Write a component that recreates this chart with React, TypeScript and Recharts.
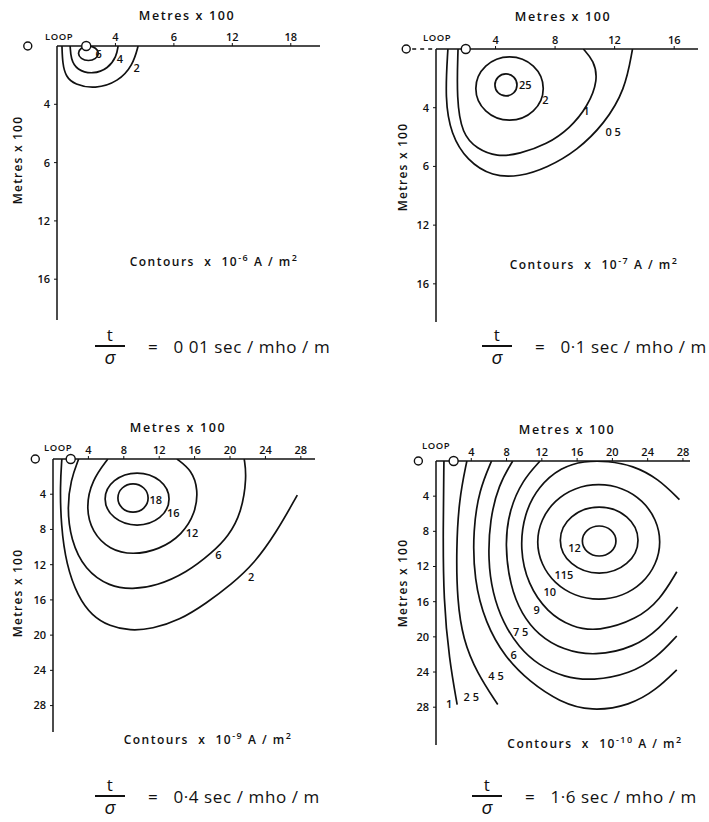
import React from "react";
import {
  ComposedChart,
  Line,
  Scatter,
  XAxis,
  YAxis,
  ReferenceDot,
  ReferenceLine,
} from "recharts";

const FONT = "'Open Sans', 'DejaVu Sans', sans-serif";
const INK = "#111111";

// tick positions (metres x 100) and the labels as printed
const ticks16 = [4, 8, 12, 16];
const ticks28 = [4, 8, 12, 16, 20, 24, 28];
const p1XLabels = ["4", "6", "12", "18"];
const p1YLabels = ["4", "6", "12", "16"];
const p2XLabels = ["4", "8", "12", "16"];
const p2YLabels = ["4", "6", "12", "16"];
const p34Labels = ["4", "8", "12", "16", "20", "24", "28"];

// t/sigma = 0.01
const p1Contour2 = [
  { x: 0.34, y: 0 }, { x: 0.38, y: 1.2 }, { x: 0.6, y: 2.1 }, { x: 1.2, y: 2.65 },
  { x: 2.6, y: 2.95 }, { x: 4.2, y: 2.45 }, { x: 5.2, y: 1.3 }, { x: 5.55, y: 0 },
];
const p1Contour4 = [
  { x: 0.9, y: 0 }, { x: 0.95, y: 0.9 }, { x: 1.35, y: 1.65 }, { x: 2.47, y: 1.95 },
  { x: 3.5, y: 1.55 }, { x: 4.08, y: 0.7 }, { x: 4.18, y: 0 },
];
const p1Contour6 = [
  { x: 2.9, y: 0.5 }, { x: 2.68, y: 0.88 }, { x: 2.15, y: 1.05 }, { x: 1.62, y: 0.88 },
  { x: 1.4, y: 0.5 }, { x: 1.62, y: 0.12 }, { x: 2.15, y: -0.05 }, { x: 2.68, y: 0.12 },
];
const p1Labels = [
  { x: 2.85, y: 0.5, t: "6" },
  { x: 4.3, y: 0.85, t: "4" },
  { x: 5.45, y: 1.45, t: "2" },
];

// t/sigma = 0.1
const p2Contour05 = [
  { x: 0.8, y: 0 }, { x: 0.6, y: 3.4 }, { x: 1.0, y: 5.8 }, { x: 2.08, y: 7.6 },
  { x: 3.8, y: 8.7 }, { x: 5.6, y: 8.7 }, { x: 7.45, y: 8.1 }, { x: 9.5, y: 6.9 },
  { x: 11.3, y: 5.1 }, { x: 12.7, y: 2.8 }, { x: 13.2, y: 0 },
];
const p2Contour1 = [
  { x: 1.48, y: 0 }, { x: 1.38, y: 3.4 }, { x: 1.75, y: 5.8 }, { x: 2.75, y: 6.8 },
  { x: 4.1, y: 7.35 }, { x: 5.6, y: 7.15 }, { x: 7.45, y: 6.5 }, { x: 9.0, y: 5.4 },
  { x: 10.2, y: 3.9 }, { x: 10.9, y: 2.1 }, { x: 10.6, y: 0.8 }, { x: 9.9, y: 0 },
];
const p2Contour2 = [
  { x: 7.45, y: 2.69 }, { x: 6.71, y: 4.38 }, { x: 4.94, y: 5.08 }, { x: 3.17, y: 4.38 },
  { x: 2.43, y: 2.69 }, { x: 3.17, y: 1.0 }, { x: 4.94, y: 0.3 }, { x: 6.71, y: 1.0 },
];
const p2Contour25 = [
  { x: 5.52, y: 2.45 }, { x: 5.28, y: 3.04 }, { x: 4.7, y: 3.28 }, { x: 4.12, y: 3.04 },
  { x: 3.88, y: 2.45 }, { x: 4.12, y: 1.86 }, { x: 4.7, y: 1.62 }, { x: 5.28, y: 1.86 },
];
const p2Labels = [
  { x: 6.0, y: 2.4, t: "25" },
  { x: 7.35, y: 3.45, t: "2" },
  { x: 10.1, y: 4.2, t: "1" },
  { x: 11.9, y: 5.6, t: "0 5" },
];

// t/sigma = 0.4
const p3Contour2 = [
  { x: 1.0, y: 0 }, { x: 0.8, y: 3.0 }, { x: 0.9, y: 7.5 }, { x: 1.5, y: 12.0 },
  { x: 2.8, y: 15.6 }, { x: 4.4, y: 17.8 }, { x: 6.4, y: 19.0 }, { x: 8.7, y: 19.5 },
  { x: 11.2, y: 19.3 }, { x: 14.3, y: 18.3 }, { x: 17.3, y: 16.4 }, { x: 20.2, y: 14.2 },
  { x: 22.7, y: 11.9 }, { x: 25.2, y: 8.4 }, { x: 27.6, y: 4.1 },
];
const p3Contour6 = [
  { x: 2.9, y: 0 }, { x: 2.0, y: 2.4 }, { x: 1.6, y: 5.45 }, { x: 2.0, y: 9.2 },
  { x: 3.6, y: 12.6 }, { x: 6.4, y: 14.5 }, { x: 9.0, y: 14.8 }, { x: 11.7, y: 14.4 },
  { x: 15.1, y: 12.9 }, { x: 18.0, y: 10.6 }, { x: 19.8, y: 8.8 }, { x: 21.3, y: 6.1 },
  { x: 21.9, y: 2.0 }, { x: 21.6, y: 0 },
];
const p3Contour12 = [
  { x: 6.2, y: 0 }, { x: 4.4, y: 2.4 }, { x: 3.7, y: 5.45 }, { x: 4.4, y: 8.3 },
  { x: 6.4, y: 10.3 }, { x: 9.0, y: 10.9 }, { x: 12.0, y: 10.3 }, { x: 14.6, y: 8.6 },
  { x: 16.1, y: 6.1 }, { x: 16.4, y: 3.5 }, { x: 15.7, y: 1.3 }, { x: 14.0, y: 0 },
];
const p3Contour16 = [
  { x: 13.5, y: 4.55 }, { x: 12.33, y: 6.86 }, { x: 9.5, y: 7.82 }, { x: 6.67, y: 6.86 },
  { x: 5.5, y: 4.55 }, { x: 6.67, y: 2.24 }, { x: 9.5, y: 1.28 }, { x: 12.33, y: 2.24 },
];
const p3Contour18 = [
  { x: 10.93, y: 4.43 }, { x: 10.38, y: 5.69 }, { x: 9.04, y: 6.21 }, { x: 7.7, y: 5.69 },
  { x: 7.15, y: 4.43 }, { x: 7.7, y: 3.17 }, { x: 9.04, y: 2.65 }, { x: 10.38, y: 3.17 },
];
const p3Labels = [
  { x: 11.6, y: 4.55, t: "18" },
  { x: 13.6, y: 6.1, t: "16" },
  { x: 15.7, y: 8.4, t: "12" },
  { x: 18.7, y: 10.9, t: "6" },
  { x: 22.4, y: 13.3, t: "2" },
];

// t/sigma = 1.6
const p4Contour1 = [
  { x: 0.9, y: 0 }, { x: 0.8, y: 7.8 }, { x: 0.85, y: 15.8 }, { x: 1.5, y: 22.6 }, { x: 2.4, y: 27.7 },
];
const p4Contour25 = [
  { x: 3.5, y: 0 }, { x: 2.6, y: 4.4 }, { x: 2.3, y: 10.1 }, { x: 2.4, y: 15.8 },
  { x: 3.06, y: 20.3 }, { x: 4.64, y: 24.1 }, { x: 7.0, y: 27.7 },
];
const p4Contour45 = [
  { x: 6.3, y: 0 }, { x: 4.9, y: 3.3 }, { x: 4.2, y: 7.8 }, { x: 4.3, y: 13.5 },
  { x: 5.6, y: 18.4 }, { x: 7.8, y: 22.3 }, { x: 10.6, y: 25.1 }, { x: 14.0, y: 27.4 },
  { x: 17.6, y: 28.5 }, { x: 22.0, y: 27.8 }, { x: 25.0, y: 26.0 }, { x: 27.3, y: 23.75 },
];
const p4Contour6 = [
  { x: 8.7, y: 0 }, { x: 7.1, y: 2.7 }, { x: 6.1, y: 6.7 }, { x: 5.9, y: 11.25 },
  { x: 6.4, y: 15.0 }, { x: 7.6, y: 18.4 }, { x: 9.4, y: 21.2 }, { x: 11.6, y: 23.2 },
  { x: 14.5, y: 24.6 }, { x: 17.8, y: 25.0 }, { x: 22.0, y: 24.2 }, { x: 25.0, y: 22.4 },
  { x: 27.3, y: 19.9 },
];
const p4Contour75 = [
  { x: 11.8, y: 0 }, { x: 9.8, y: 2.2 }, { x: 8.3, y: 5.6 }, { x: 7.8, y: 9.5 },
  { x: 8.4, y: 14.2 }, { x: 9.7, y: 17.4 }, { x: 11.6, y: 19.8 }, { x: 14.4, y: 21.5 },
  { x: 18.0, y: 22.2 }, { x: 22.5, y: 21.2 }, { x: 25.4, y: 19.0 }, { x: 27.4, y: 16.6 },
];
const p4Contour9 = [
  { x: 27.6, y: 4.4 }, { x: 25.2, y: 2.0 }, { x: 22.3, y: 0.5 }, { x: 19.5, y: 0 },
  { x: 16.8, y: 0 }, { x: 14.2, y: 0.7 }, { x: 11.6, y: 2.9 }, { x: 10.0, y: 6.0 },
  { x: 9.5, y: 10.0 }, { x: 10.4, y: 14.0 }, { x: 12.6, y: 17.2 }, { x: 15.4, y: 18.9 },
  { x: 18.4, y: 19.4 }, { x: 22.8, y: 18.0 }, { x: 25.4, y: 15.8 }, { x: 27.3, y: 12.6 },
];
const p4Contour10 = [
  { x: 26.11, y: 9.2 }, { x: 23.87, y: 14.3 }, { x: 18.45, y: 16.42 }, { x: 13.03, y: 14.3 },
  { x: 10.79, y: 9.2 }, { x: 13.03, y: 4.1 }, { x: 18.45, y: 1.98 }, { x: 23.87, y: 4.1 },
];
const p4Contour115 = [
  { x: 23.38, y: 9.0 }, { x: 21.95, y: 11.94 }, { x: 18.5, y: 13.16 }, { x: 15.05, y: 11.94 },
  { x: 13.62, y: 9.0 }, { x: 15.05, y: 6.06 }, { x: 18.5, y: 4.84 }, { x: 21.95, y: 6.06 },
];
const p4Contour12 = [
  { x: 20.61, y: 9.1 }, { x: 19.99, y: 10.44 }, { x: 18.5, y: 10.99 }, { x: 17.01, y: 10.44 },
  { x: 16.39, y: 9.1 }, { x: 17.01, y: 7.76 }, { x: 18.5, y: 7.21 }, { x: 19.99, y: 7.76 },
];
const p4Labels = [
  { x: 15.7, y: 9.8, t: "12" },
  { x: 14.5, y: 12.9, t: "115" },
  { x: 12.9, y: 14.8, t: "10" },
  { x: 11.4, y: 16.9, t: "9" },
  { x: 9.6, y: 19.4, t: "7 5" },
  { x: 8.8, y: 22.0, t: "6" },
  { x: 6.8, y: 24.4, t: "4 5" },
  { x: 4.0, y: 26.8, t: "2 5" },
  { x: 1.5, y: 27.6, t: "1" },
];

type Pt = { x: number; y: number };
type Lbl = { x: number; y: number; t: string };

function ContourLabel(props: any) {
  const { cx, cy, payload } = props;
  return (
    <text
      x={cx}
      y={cy}
      textAnchor="middle"
      dominantBaseline="central"
      fontSize={11}
      fontFamily={FONT}
      fontWeight={600}
      fill={INK}
    >
      {payload.t}
    </text>
  );
}

interface PanelProps {
  left: number;
  top: number;
  width: number;
  height: number;
  xMax: number;
  yMax: number;
  xTicks: number[];
  xLabels: string[];
  yTicks: number[];
  yLabels: string[];
  open: Pt[][];
  closed: Pt[][];
  labels: Lbl[];
  dashedLead?: boolean;
}

function Panel(p: PanelProps) {
  const tickStyle = { fill: INK, fontSize: 11, fontFamily: FONT, fontWeight: 600 };
  return (
    <div style={{ position: "absolute", left: p.left - 40, top: p.top - 30 }}>
      <ComposedChart
        width={p.width + 50}
        height={p.height + 40}
        margin={{ top: 10, right: 10, bottom: 10, left: 10 }}
      >
        <XAxis
          type="number"
          dataKey="x"
          orientation="top"
          domain={[0, p.xMax]}
          ticks={p.xTicks}
          interval={0}
          allowDataOverflow
          height={20}
          tickSize={3}
          tick={tickStyle}
          tickLine={{ stroke: INK }}
          axisLine={{ stroke: INK, strokeWidth: 1.5 }}
          tickFormatter={(v, i) => p.xLabels[i]}
        />
        <YAxis
          type="number"
          dataKey="y"
          reversed
          domain={[0, p.yMax]}
          ticks={p.yTicks}
          interval={0}
          allowDataOverflow
          width={30}
          tickSize={3}
          tickMargin={4}
          tick={tickStyle}
          tickLine={{ stroke: INK }}
          axisLine={{ stroke: INK, strokeWidth: 1.5 }}
          tickFormatter={(v, i) => p.yLabels[i]}
        />
        {p.open.map((d, i) => (
          <Line
            key={"o" + i}
            data={d}
            dataKey="y"
            type="basis"
            stroke={INK}
            strokeWidth={1.7}
            dot={false}
            activeDot={false}
            isAnimationActive={false}
          />
        ))}
        {p.closed.map((d, i) => (
          <Line
            key={"c" + i}
            data={d}
            dataKey="y"
            type="basisClosed"
            stroke={INK}
            strokeWidth={1.7}
            dot={false}
            activeDot={false}
            isAnimationActive={false}
          />
        ))}
        <Scatter
          data={p.labels}
          dataKey="y"
          shape={(s: any) => <ContourLabel {...s} />}
          isAnimationActive={false}
        />
        {p.dashedLead && (
          <ReferenceLine
            segment={[{ x: -1.6, y: 0 }, { x: 0, y: 0 }]}
            stroke={INK}
            strokeWidth={1.3}
            strokeDasharray="4 4"
            ifOverflow="visible"
          />
        )}
        <ReferenceDot x={-2} y={0} r={4} fill="#fff" stroke={INK} strokeWidth={1.4} ifOverflow="visible" />
        <ReferenceDot x={2} y={0} r={4.5} fill="#fff" stroke={INK} strokeWidth={1.4} ifOverflow="visible" />
      </ComposedChart>
    </div>
  );
}

function Caption({ x, y, size = 11, rotate = false, weight = 600, spacing = 0.5, children }: any) {
  return (
    <div
      style={{
        position: "absolute",
        left: x,
        top: y,
        transform: `translate(-50%, -50%)${rotate ? " rotate(-90deg)" : ""}`,
        whiteSpace: "nowrap",
        fontFamily: FONT,
        fontSize: size,
        fontWeight: weight,
        letterSpacing: spacing,
        color: INK,
        lineHeight: 1,
      }}
    >
      {children}
    </div>
  );
}

function Contours({ x, y, exp }: { x: number; y: number; exp: string }) {
  return (
    <Caption x={x} y={y} size={12} spacing={1.5}>
      Contours &nbsp;x&nbsp; 10<sup style={{ fontSize: 9 }}>{exp}</sup> A / m<sup style={{ fontSize: 9 }}>2</sup>
    </Caption>
  );
}

function Ratio({ cx, cy, value }: { cx: number; cy: number; value: string }) {
  return (
    <>
      <Caption x={cx} y={cy - 12} size={17} weight={400}>t</Caption>
      <div style={{ position: "absolute", left: cx - 15, top: cy - 1, width: 30, height: 1.5, background: INK }} />
      <Caption x={cx} y={cy + 11} size={19} weight={400} spacing={0}>
        <i>σ</i>
      </Caption>
      <div
        style={{
          position: "absolute",
          left: cx + 38,
          top: cy,
          transform: "translateY(-50%)",
          whiteSpace: "nowrap",
          fontFamily: FONT,
          fontSize: 17,
          letterSpacing: 0.6,
          color: INK,
          lineHeight: 1,
        }}
      >
        =&nbsp;&nbsp; {value}
      </div>
    </>
  );
}

export default function App() {
  return (
    <div style={{ position: "absolute", left: 0, top: 0, width: 709, height: 822, background: "#fff" }}>
      <Panel
        left={57} top={46} width={263} height={274} xMax={18} yMax={18.8}
        xTicks={ticks16} xLabels={p1XLabels} yTicks={ticks16} yLabels={p1YLabels}
        open={[p1Contour2, p1Contour4]} closed={[p1Contour6]} labels={p1Labels}
      />
      <Panel
        left={436} top={49} width={262} height={273} xMax={17.6} yMax={18.6}
        xTicks={ticks16} xLabels={p2XLabels} yTicks={ticks16} yLabels={p2YLabels}
        open={[p2Contour05, p2Contour1]} closed={[p2Contour2, p2Contour25]} labels={p2Labels}
        dashedLead
      />
      <Panel
        left={53} top={459} width={262} height={273} xMax={29.6} yMax={31}
        xTicks={ticks28} xLabels={p34Labels} yTicks={ticks28} yLabels={p34Labels}
        open={[p3Contour2, p3Contour6, p3Contour12]} closed={[p3Contour16, p3Contour18]} labels={p3Labels}
      />
      <Panel
        left={436} top={461} width={254} height={284} xMax={28.8} yMax={32.3}
        xTicks={ticks28} xLabels={p34Labels} yTicks={ticks28} yLabels={p34Labels}
        open={[p4Contour1, p4Contour25, p4Contour45, p4Contour6, p4Contour75, p4Contour9]}
        closed={[p4Contour10, p4Contour115, p4Contour12]}
        labels={p4Labels}
      />

      <Caption x={187} y={16} size={12.5} spacing={1.6}>Metres x 100</Caption>
      <Caption x={563} y={17} size={12.5} spacing={1.6}>Metres x 100</Caption>
      <Caption x={178} y={428} size={12.5} spacing={1.6}>Metres x 100</Caption>
      <Caption x={567} y={430} size={12.5} spacing={1.6}>Metres x 100</Caption>

      <Caption x={18} y={160} size={12} spacing={1.2} rotate>Metres x 100</Caption>
      <Caption x={403} y={167} size={12} spacing={1.2} rotate>Metres x 100</Caption>
      <Caption x={18} y={593} size={12} spacing={1.2} rotate>Metres x 100</Caption>
      <Caption x={403} y={583} size={12} spacing={1.2} rotate>Metres x 100</Caption>

      <Caption x={59} y={37} size={9.5}>LOOP</Caption>
      <Caption x={437} y={38} size={9.5}>LOOP</Caption>
      <Caption x={58} y={448} size={9.5}>LOOP</Caption>
      <Caption x={436} y={446} size={9.5}>LOOP</Caption>

      <Contours x={214} y={260} exp="-6" />
      <Contours x={594} y={263} exp="-7" />
      <Contours x={208} y={738} exp="-9" />
      <Contours x={595} y={742} exp="-10" />

      <Ratio cx={110} cy={346} value="0 01 sec / mho / m" />
      <Ratio cx={497} cy={346} value="0·1 sec / mho / m" />
      <Ratio cx={110} cy={796} value="0·4 sec / mho / m" />
      <Ratio cx={487} cy={796} value="1·6 sec / mho / m" />
    </div>
  );
}
